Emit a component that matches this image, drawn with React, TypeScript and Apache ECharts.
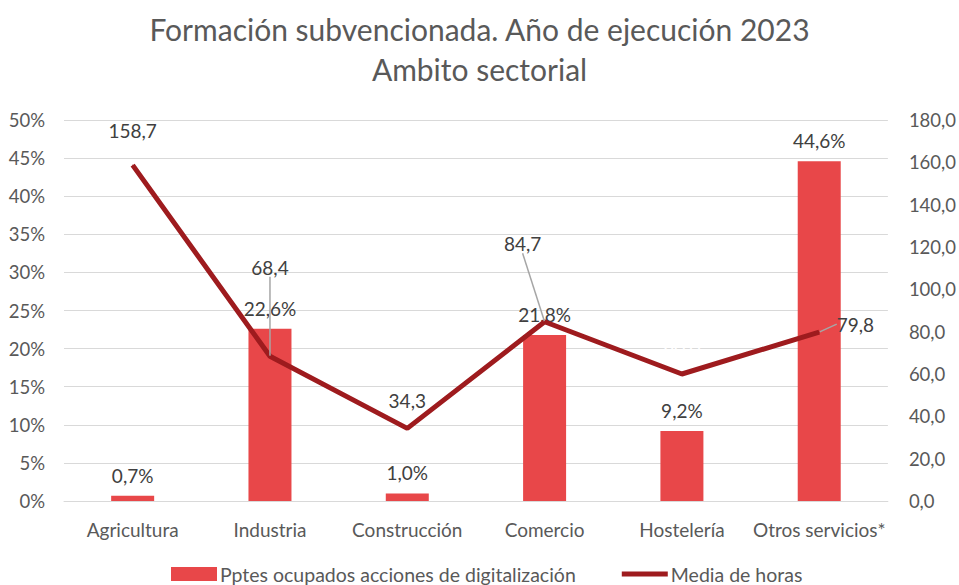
import React, { useEffect, useRef } from "react";
import * as echarts from "echarts";

const categories = ["Agricultura", "Industria", "Construcción", "Comercio", "Hostelería", "Otros servicios*"];
const pctValues = [0.7, 22.6, 1.0, 21.8, 9.2, 44.6];
const hoursValues = [158.7, 68.4, 34.3, 84.7, 60.0, 79.8];
const seriesNames = ["Pptes ocupados acciones de digitalización", "Media de horas"];
const titleText = "Formación subvencionada. Año de ejecución 2023\nAmbito sectorial";

// label displacement (style only)
const lineLabelShift = [[0, -20], [0, -74], [0, -13], [-22, -63], [0, -12], [12, -8]];
const lineLabelGuide = [false, true, false, true, false, true];

const fmt = (v: number, d: number) => v.toFixed(d).replace(".", ",");

export default function App() {
  const ref = useRef<HTMLDivElement>(null);
  useEffect(() => {
    const chart = echarts.init(ref.current!, null, { renderer: "svg" });
    const font = "Lato, 'Open Sans', sans-serif";
    chart.setOption({
      animation: false,
      textStyle: { fontFamily: font },
      title: {
        text: titleText,
        left: "center",
        top: 4,
        textStyle: { fontSize: 30, fontWeight: "normal", color: "#595959", lineHeight: 40, fontFamily: font },
      },
      legend: {
        bottom: -4,
        left: 166,
        itemGap: 46,
        itemWidth: 46,
        itemHeight: 14,
        textStyle: { fontSize: 19.5, color: "#595959", fontFamily: font, padding: [0, 0, 0, -2] },
        data: [
          { name: seriesNames[0], icon: "rect" },
          { name: seriesNames[1], icon: "path://M0,0 L46,0 L46,5 L0,5 Z" },
        ],
      },
      grid: { left: 64, right: 70, top: 120, bottom: 84 },
      xAxis: {
        type: "category",
        data: categories,
        axisTick: { show: false },
        axisLine: { lineStyle: { color: "#d9d9d9", width: 1 } },
        axisLabel: { fontSize: 19, color: "#595959", margin: 19, fontFamily: font, interval: 0 },
      },
      yAxis: [
        {
          type: "value",
          min: 0,
          max: 0.5,
          interval: 0.05,
          axisLine: { show: false },
          axisTick: { show: false },
          splitLine: { lineStyle: { color: "#d9d9d9", width: 1 } },
          axisLabel: {
            fontSize: 18.5,
            color: "#595959",
            margin: 19,
            fontFamily: font,
            formatter: (v: number) => Math.round(v * 100) + "%",
          },
        },
        {
          type: "value",
          min: 0,
          max: 180,
          interval: 20,
          axisLine: { show: false },
          axisTick: { show: false },
          splitLine: { show: false },
          axisLabel: {
            fontSize: 18.5,
            color: "#595959",
            margin: 21,
            fontFamily: font,
            formatter: (v: number) => fmt(v, 1),
          },
        },
      ],
      series: [
        {
          name: seriesNames[0],
          type: "bar",
          yAxisIndex: 0,
          barWidth: 43,
          itemStyle: { color: "#E84749" },
          data: pctValues.map((v) => v / 100),
          label: {
            show: true,
            position: "top",
            distance: 11,
            fontSize: 19,
            color: "#404040",
            fontFamily: font,
            formatter: (p: any) => fmt(p.value * 100, 1) + "%",
          },
        },
        {
          name: seriesNames[1],
          type: "line",
          yAxisIndex: 1,
          data: hoursValues.map((v, i) => ({
            value: v,
            label: i === 4 ? { color: "#ffffff" } : i === 5 ? { position: "right" } : undefined,
            labelLine: { show: lineLabelGuide[i] },
          })),
          symbol: "circle",
          symbolSize: 1,
          showSymbol: true,
          lineStyle: { color: "#9E1B1E", width: 5 },
          itemStyle: { color: "#9E1B1E" },
          z: 5,
          label: {
            show: true,
            position: "top",
            fontSize: 19,
            color: "#404040",
            fontFamily: font,
            formatter: (p: any) => fmt(p.value, 1),
          },
          labelLine: { show: true, lineStyle: { color: "#a6a6a6", width: 1.5 } },
          labelLayout: (params: any) => {
            const s = lineLabelShift[params.dataIndex];
            return { dx: s[0], dy: s[1] };
          },
        },
      ],
    });
    return () => chart.dispose();
  }, []);
  return <div ref={ref} style={{ width: 959, height: 585, position: "absolute", left: 0, top: 0 }} />;
}
